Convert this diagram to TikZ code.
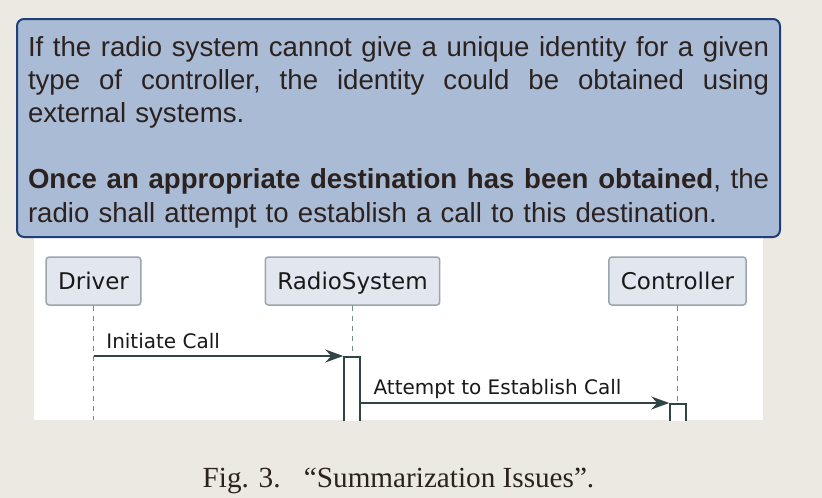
\documentclass[tikz,border=0pt]{standalone}
\usepackage{fontspec}
\setmainfont{Liberation Serif}
\newfontfamily\notefont{Liberation Sans}
\newfontfamily\umlfont{DejaVu Sans}
\usetikzlibrary{arrows.meta}
\definecolor{paper}{RGB}{236,232,226}
\definecolor{notefill}{RGB}{170,187,213}
\definecolor{noteline}{RGB}{31,63,120}
\definecolor{ink}{RGB}{43,34,32}
\definecolor{partfill}{RGB}{226,230,239}
\definecolor{partline}{RGB}{154,165,173}
\definecolor{lifeline}{RGB}{115,138,145}
\definecolor{msgline}{RGB}{48,68,72}
\newcommand{\fullline}[1]{\leavevmode\hbox to 741pt{\frenchspacing\spaceskip=0.278em plus 1fil\relax #1}}
\tikzset{note/.style = {draw=noteline, fill=notefill, line width=2pt, rounded corners=7pt, text=ink, font=\notefont\fontsize{27.6}{33.2}\selectfont, text width=741pt, align=left, inner xsep=11pt, inner ysep=0pt, minimum width=763pt, minimum height=218pt}}
\tikzset{part/.style = {draw=partline, fill=partfill, line width=1.5pt, rounded corners=3pt, font=\umlfont\fontsize{23}{27}\selectfont, text=black!90, inner xsep=12pt, text height=17pt, text depth=1pt, minimum height=48pt}}
\tikzset{act/.style = {draw=msgline, fill=white, line width=1.5pt, minimum width=16pt, minimum height=90pt, inner sep=0pt, anchor=north}}
\tikzset{life/.style = {draw=lifeline, line width=1.4pt, dash pattern=on 5pt off 5pt}}
\tikzset{msg/.style = {draw=msgline, line width=1.7pt, -{Stealth[length=18pt, width=13pt, inset=6pt]}}}
\tikzset{msglabel/.style = {font=\umlfont\fontsize{20}{24}\selectfont, text=black!90, anchor=base west, inner sep=0pt, xshift=12pt}}

\begin{document}
\begin{tikzpicture}[x=1pt,y=-1pt]
    \fill[paper](0,0)rectangle(822,498);
    \useasboundingbox(0,0)rectangle(822,498);
    \fill[white](34,230)rectangle(763,420);
    \begin{scope}
        \clip(34,238)rectangle(763,420);
        \coordinate(bot)at(0,420);
        \node[part](drv)at(93.5,281){Driver};
        \node[part](rad)at(352.5,281){RadioSystem};
        \node[part](ctl)at(677.5,281){Controller};
        \draw[life](drv.south)--(drv.south|-bot);
        \draw[life](rad.south)--(rad.south|-bot);
        \draw[life](ctl.south)--(ctl.south|-bot);
        \node[act](actR)at(352,356){};
        \node[act](actC)at(678,403){};
        \draw[msg](drv.south|-actR.north)--(actR.north west)node[msglabel,pos=0,yshift=8pt]{Initiate Call};
        \draw[msg](actR.east|-actC.north)--(actC.north west)node[msglabel,pos=0,yshift=9pt]{Attempt to Establish Call};
    \end{scope}
    \node[note](txt)at(398.5,128){\rule{0pt}{28pt}\fullline{If the radio system cannot give a unique identity for a given}\\
        \fullline{type of controller, the identity could be obtained using}\\
        external systems.\\[33pt]
        \fullline{\textbf{Once an appropriate destination has been obtained}, the}\\
        radio shall attempt to establish a call to this destination.};
    \node[font=\fontsize{29.2}{34}\selectfont, text=ink, anchor=base, inner sep=0pt](cap)at(398.5,487){Fig. 3.\hspace{0.8em}“Summarization Issues”.};
\end{tikzpicture}
\end{document}
